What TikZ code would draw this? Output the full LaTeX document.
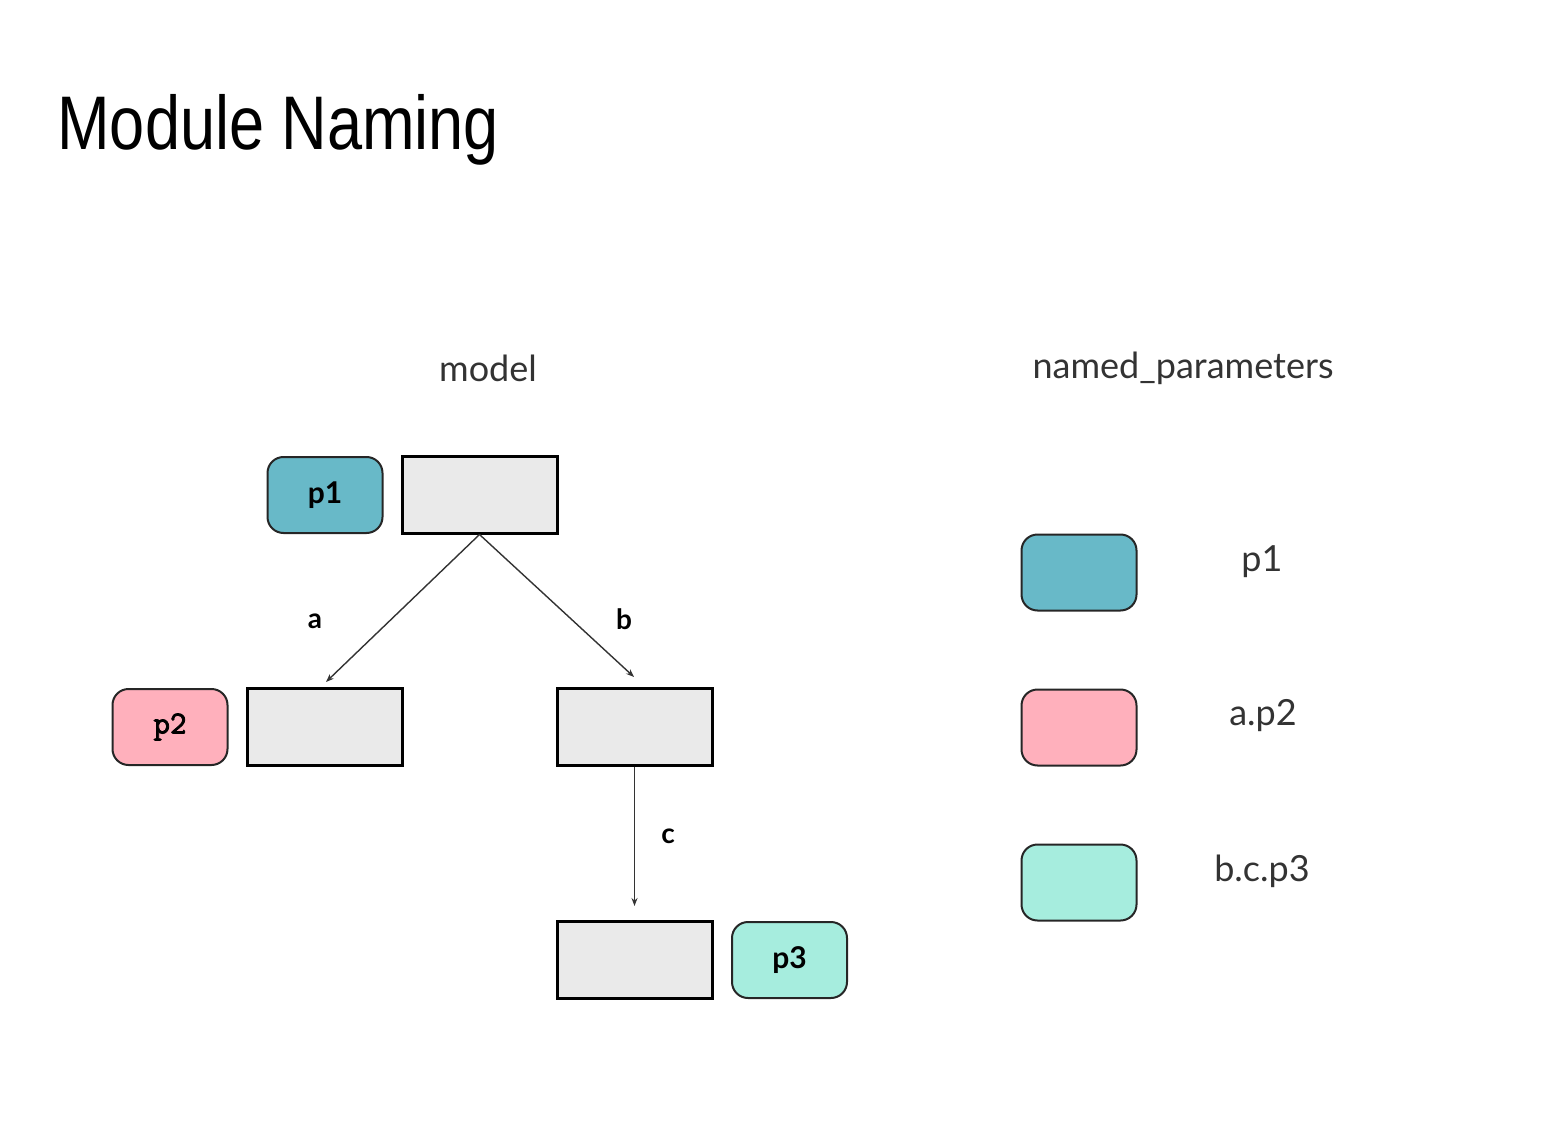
\documentclass[tikz,border=0pt]{standalone}
\usepackage{fontspec}
\setmainfont{Lato}
\newfontfamily\titlefont[FakeStretch=0.83]{Liberation Sans}
\newfontfamily\labfont{Lato}
\newfontfamily\codefont[FakeBold=2.5]{Latin Modern Mono}
\usetikzlibrary{arrows.meta}
\definecolor{pblue}{HTML}{68B9C8}
\definecolor{ppink}{HTML}{FFB0BC}
\definecolor{pmint}{HTML}{A6EDDE}
\definecolor{mgray}{HTML}{EAEAEA}
\definecolor{txt}{HTML}{333333}
\tikzset{
  modbox/.style={draw=black, line width=1.5pt, fill=mgray, minimum width=77.5pt, minimum height=38.5pt, inner sep=0pt},
  parbox/.style={draw=black!85, line width=1pt, rounded corners=8pt, minimum width=57.5pt, minimum height=38pt, inner sep=0pt},
  ptext/.style={font=\labfont\bfseries\fontsize{15}{17}\selectfont},
  codetext/.style={font=\codefont\fontsize{16}{18}\selectfont},
  edge/.style={draw=black!80, line width=0.7pt, -{Stealth[length=4pt,width=3pt]}},
  elab/.style={font=\labfont\bfseries\fontsize{14}{16}\selectfont},
  legtxt/.style={font=\labfont\fontsize{18}{21}\selectfont, text=txt},
}
\begin{document}
\begin{tikzpicture}[x=0.5pt,y=-0.5pt]
\useasboundingbox (0,0) rectangle (1561,1138);
\node[anchor=base west, inner sep=0pt, font=\titlefont\fontsize{38}{44}\selectfont] (title) at (57,150) {Module Naming};
\node[legtxt] (model) at (488,368) {model};
\node[legtxt] (np) at (1183,368) {named\_parameters};
% module boxes
\node[modbox] (root) at (479.5,494.5) {};
\node[modbox] (ma) at (324.5,727) {};
\node[modbox] (mb) at (634.5,727) {};
\node[modbox] (mc) at (634.5,959.5) {};
% params
\node[parbox, fill=pblue, ptext] (p1) at (325,495) {p1};
\node[parbox, fill=ppink, codetext] (p2) at (170,727) {p2};
\node[parbox, fill=pmint, ptext] (p3) at (789.5,960) {p3};
% edges
\coordinate (ea) at (326,682);
\coordinate (eb) at (634,677);
\coordinate (ec) at (634.5,906);
\draw[edge] (root.south) -- (ea);
\draw[edge] (root.south) -- (eb);
\draw[edge] (mb.south) -- (ec);
\node[elab] (la) at (315,621) {a};
\node[elab] (lb) at (624,619) {b};
\node[elab] (lc) at (668,836) {c};
% legend
\node[parbox, fill=pblue] (l1) at (1079,572.5) {};
\node[parbox, fill=ppink] (l2) at (1079,727.5) {};
\node[parbox, fill=pmint] (l3) at (1079,882.5) {};
\node[legtxt] (t1) at (1262,562) {p1};
\node[legtxt] (t2) at (1263,716) {a.p2};
\node[legtxt] (t3) at (1262,871) {b.c.p3};
\end{tikzpicture}
\end{document}
